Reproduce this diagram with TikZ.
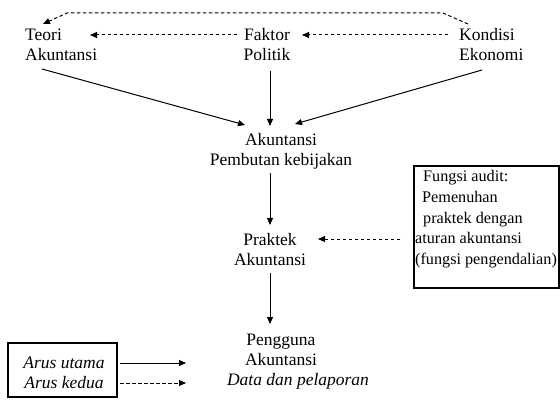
\documentclass[tikz,border=0pt]{standalone}
\usepackage{fontspec}
\setmainfont{Liberation Serif}
\usetikzlibrary{arrows.meta}
\begin{document}
\begin{tikzpicture}[x=1pt,y=-1pt,
  lbl/.style={inner sep=0pt,font=\fontsize{17.5}{20}\selectfont},
  boxlbl/.style={inner sep=0pt,font=\fontsize{16.2}{20.8}\selectfont},
  solidarrow/.style={draw,line width=1pt,-{Triangle[length=7pt,width=6pt]}},
  dasharrow/.style={draw,line width=1pt,dash pattern=on 3.5pt off 2.5pt,-{Triangle[length=7pt,width=6pt]}},
  boxed/.style={draw,line width=1.8pt,inner sep=0pt}]
\useasboundingbox (0,0) rectangle (560,401);
\fill[white] (0,0) rectangle (560,401);
\node[lbl,align=left,anchor=west] (teori) at (25,45) {Teori\\Akuntansi};
\node[lbl,align=center] (faktor) at (267,45) {Faktor\\Politik};
\node[lbl,align=left,anchor=west] (kondisi) at (459,45) {Kondisi\\Ekonomi};
\node[lbl,align=center] (akun) at (281,151) {Akuntansi\\Pembutan kebijakan};
\node[lbl,align=center] (praktek) at (270,249.5) {Praktek\\Akuntansi};
\node[lbl,align=center] (pengguna) at (281,362) {Pengguna\\Akuntansi\\\hspace*{34pt}\textit{Data dan pelaporan}};
\node[boxed,minimum width=145pt,minimum height=122pt,anchor=north west] (audit) at (413,165) {};
\node[boxlbl,align=left,anchor=north west] (audittext) at (415,170) {\hspace*{8pt}Fungsi audit:\\\hspace*{7pt}Pemenuhan\\\hspace*{8pt}praktek dengan\\aturan akuntansi\\(fungsi pengendalian)};
\node[boxed,minimum width=109pt,minimum height=54pt] (legend) at (62.5,370) {};
\node[lbl,align=center] (legendtext) at (64,373) {\textit{Arus utama}\\\textit{Arus kedua}};
\coordinate (lu) at (120,363);
\coordinate (ld) at (120,383);
\coordinate (lue) at (186,363);
\coordinate (lde) at (186,383);
% top dashed connector Kondisi -> Teori
\coordinate (t1) at (468,24);
\coordinate (t2) at (443,13);
\coordinate (t3) at (67,13);
\coordinate (t4) at (43,24);
\draw[dasharrow] (t1) -- (t2) -- (t3) -- (t4);
\coordinate (fa) at (237,35);
\coordinate (fb) at (90,35);
\coordinate (ka) at (448,35);
\coordinate (kb) at (302,35);
\draw[dasharrow] (fa) -- (fb);
\draw[dasharrow] (ka) -- (kb);
\coordinate (ts) at (42,69);
\coordinate (te) at (245,125);
\coordinate (fs) at (270,71);
\coordinate (fe) at (270,126);
\coordinate (ks) at (482,70);
\coordinate (ke) at (295,124);
\draw[solidarrow] (ts) -- (te);
\draw[solidarrow] (fs) -- (fe);
\draw[solidarrow] (ks) -- (ke);
\coordinate (as) at (270,173);
\coordinate (ae) at (270,225);
\draw[solidarrow] (as) -- (ae);
\coordinate (aus) at (400,239);
\coordinate (aue) at (318,239);
\draw[dasharrow] (aus) -- (aue);
\coordinate (ps) at (270,273);
\coordinate (pe) at (270,324);
\draw[solidarrow] (ps) -- (pe);
\draw[solidarrow] (lu) -- (lue);
\draw[dasharrow] (ld) -- (lde);
\end{tikzpicture}
\end{document}
